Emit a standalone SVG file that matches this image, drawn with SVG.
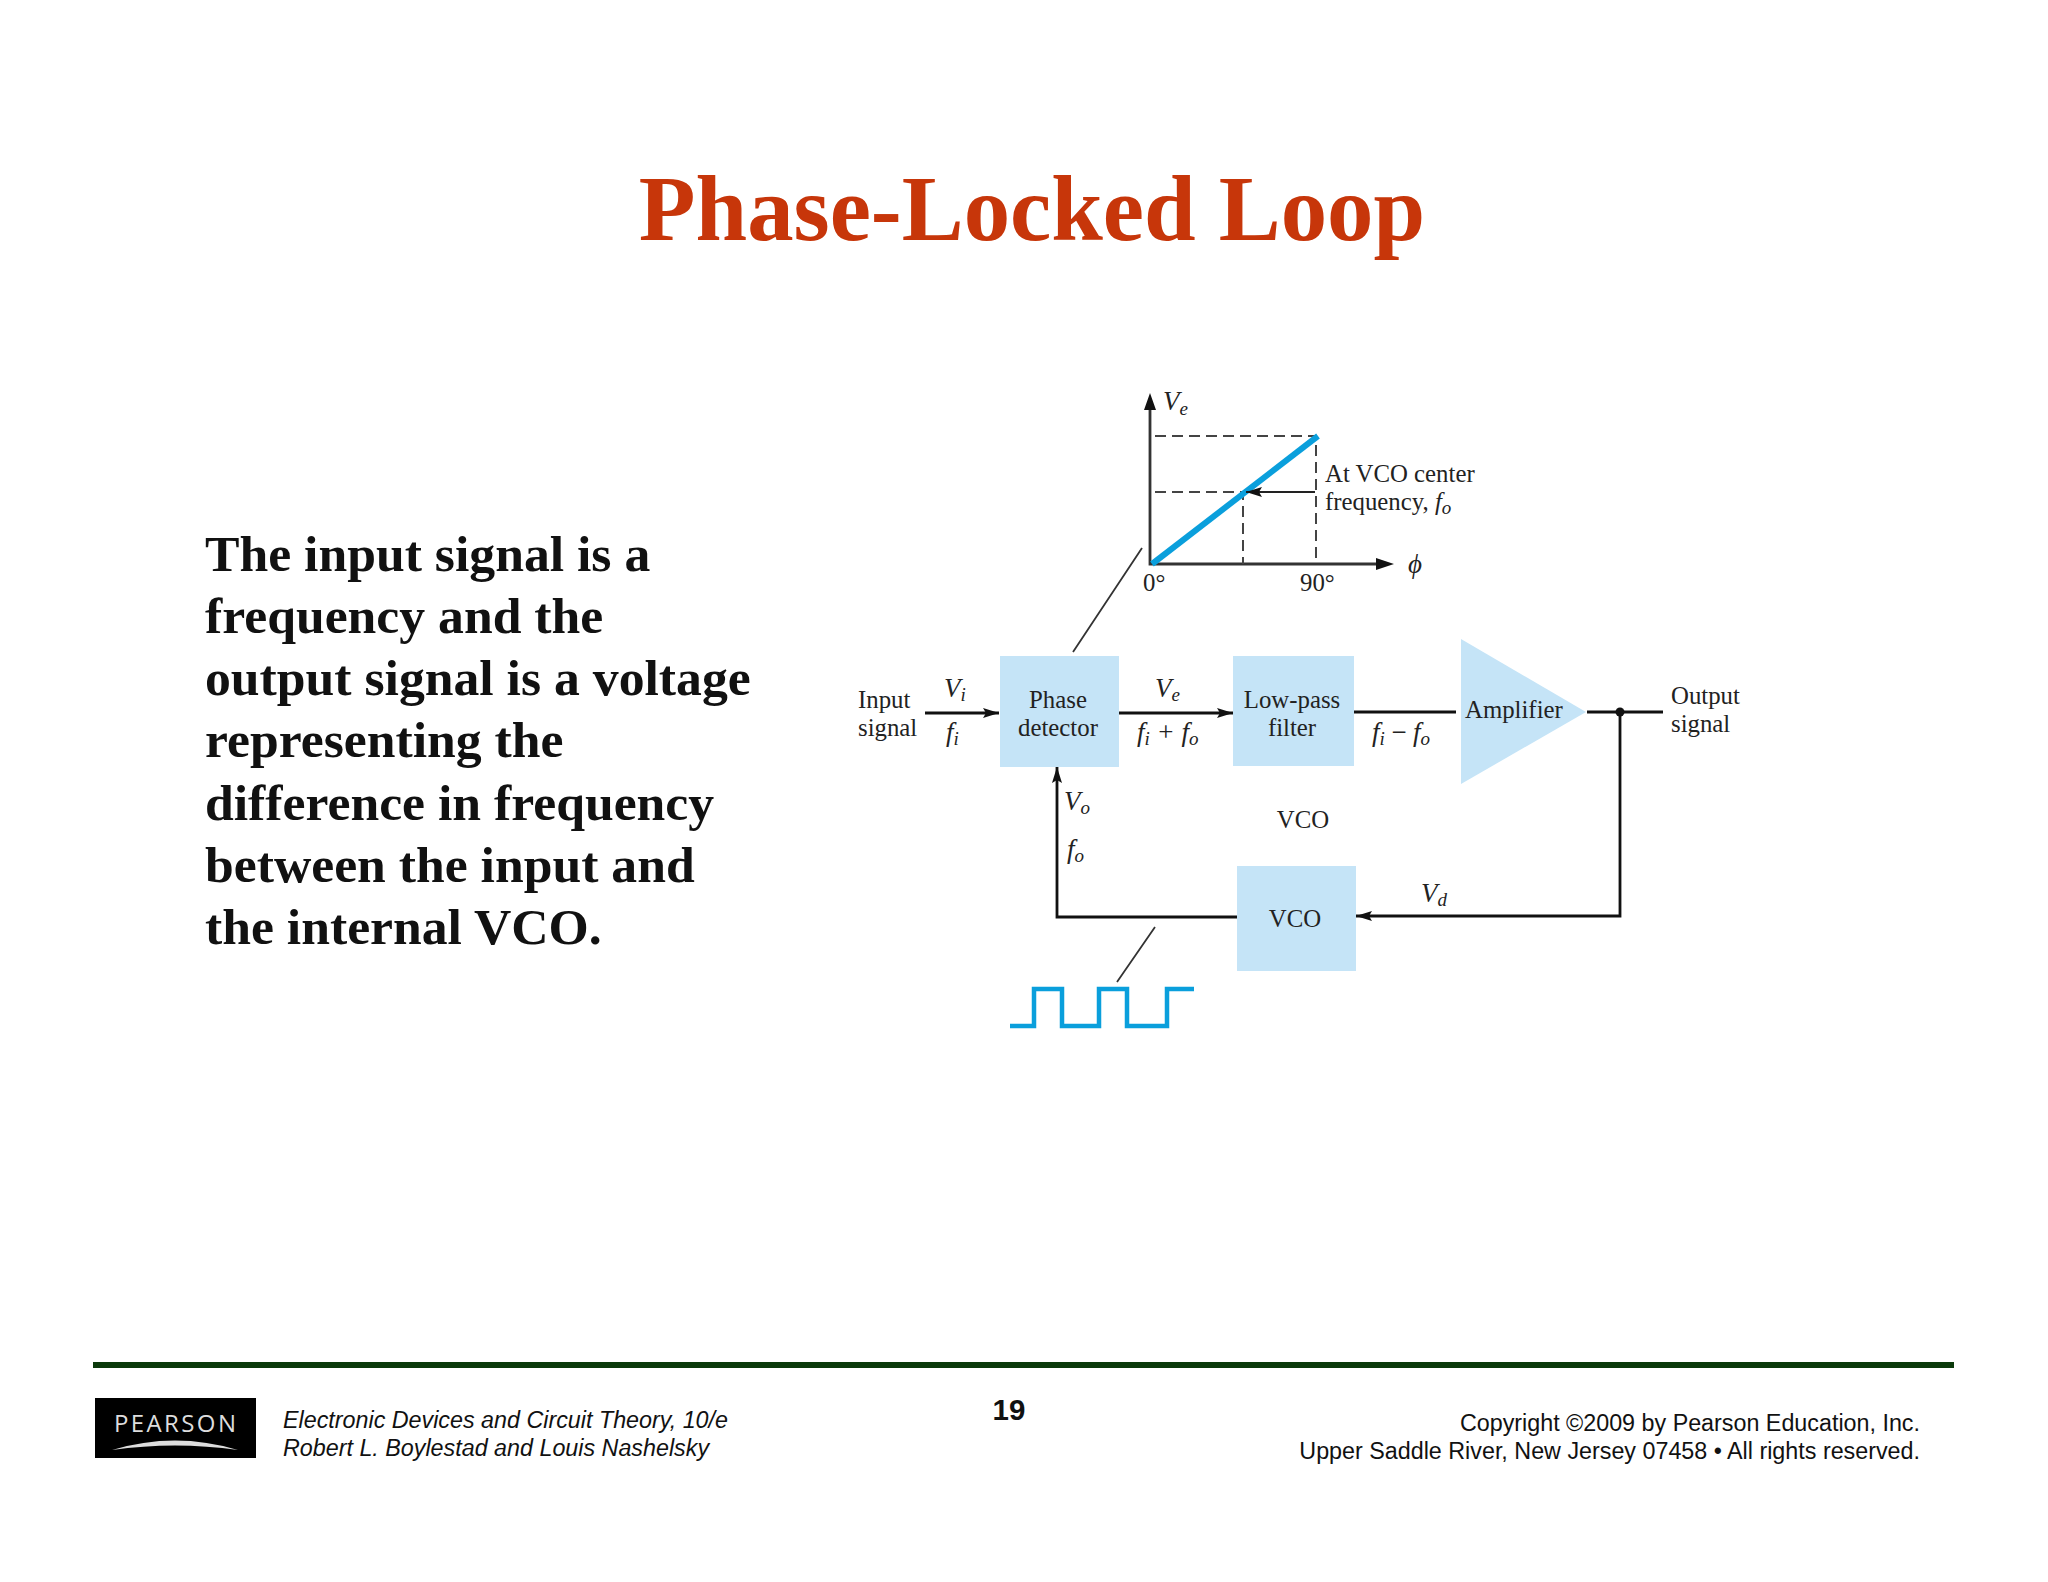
<svg xmlns="http://www.w3.org/2000/svg" width="2048" height="1582" viewBox="0 0 2048 1582">
<defs>
<marker id="ah" viewBox="0 0 16 10" refX="16" refY="5" markerWidth="16" markerHeight="10" markerUnits="userSpaceOnUse" orient="auto"><path d="M0 0L16 5L0 10L3 5Z" fill="#111"/></marker>
</defs>
<style>
.s{font-family:"Liberation Serif","Times New Roman",serif;fill:#222;font-size:24.8px}
.n{font-size:27px;font-style:italic}
.m{text-anchor:middle}
.b{fill:#c5e4f7}
.w{fill:none;stroke:#111;stroke-width:2.8}
.t{fill:none;stroke:#333;stroke-width:1.8}
.d{fill:none;stroke:#444;stroke-width:2;stroke-dasharray:11 6}
.u{fill:none;stroke:#0a9fdc}
.f{font-family:"Liberation Sans",Arial,sans-serif;fill:#111;font-size:23.3px}
.h{font-family:"Liberation Serif","Times New Roman",serif;font-weight:bold;fill:#111;font-size:51.7px}
tspan.sub{font-size:19px}
</style>
<rect width="2048" height="1582" fill="#fff"/>
<text id="title" x="1032" y="240" text-anchor="middle" style="font-family:'Liberation Serif','Times New Roman',serif;font-weight:bold;font-size:92.8px;fill:#c7360a">Phase-Locked Loop</text>
<g id="body">
<text class="h" x="205" y="571">The input signal is a</text>
<text class="h" x="205" y="633">frequency and the</text>
<text class="h" x="205" y="695">output signal is a voltage</text>
<text class="h" x="205" y="757">representing the</text>
<text class="h" x="205" y="820">difference in frequency</text>
<text class="h" x="205" y="882">between the input and</text>
<text class="h" x="205" y="944">the internal VCO.</text>
</g>
<g id="graph">
<path class="w" style="stroke:#333" d="M1150 400V564H1388"/>
<path d="M1150 393L1156 410H1144Z M1394 564L1376 558V570Z" fill="#111"/>
<path class="d" d="M1155 436H1316V564M1155 492H1243V564"/>
<path class="u" stroke-width="6" d="M1152 564L1318 436"/>
<path class="t" style="stroke:#222;stroke-width:2" d="M1315 492H1246" marker-end="url(#ah)"/>
<text class="s n" x="1163" y="410">V<tspan class="sub" dy="5">e</tspan></text>
<text class="s" x="1325" y="482">At VCO center</text>
<text class="s" x="1325" y="510">frequency, <tspan font-style="italic">f</tspan><tspan class="sub" font-style="italic" dy="4">o</tspan></text>
<text class="s n" x="1408" y="573">ϕ</text>
<text class="s" x="1143" y="591">0°</text>
<text class="s" x="1300" y="591">90°</text>
</g>
<g id="connectors">
<path class="t" d="M1142 548L1073 652M1155 927L1117 982"/>
<path class="w" d="M925 713H999" marker-end="url(#ah)"/>
<path class="w" d="M1119 713H1233" marker-end="url(#ah)"/>
<path class="w" d="M1354 712H1456M1587 712H1663"/>
<path class="w" d="M1620 712V916H1356" marker-end="url(#ah)"/>
<path class="w" d="M1237 917H1057V767" marker-end="url(#ah)"/>
<circle cx="1620" cy="712" r="4.5" fill="#111"/>
</g>
<g id="phase-detector"><rect class="b" x="1000" y="656" width="119" height="111"/><text class="s m" x="1058" y="708">Phase</text><text class="s m" x="1058" y="736">detector</text></g>
<g id="low-pass-filter"><rect class="b" x="1233" y="656" width="121" height="110"/><text class="s m" x="1292" y="708">Low-pass</text><text class="s m" x="1292" y="736">filter</text></g>
<g id="amplifier"><path class="b" d="M1461 639L1586 712L1461 784Z"/><text class="s" x="1465" y="718">Amplifier</text></g>
<g id="vco"><rect class="b" x="1237" y="866" width="119" height="105"/><text class="s m" x="1295" y="927">VCO</text></g>
<g id="labels">
<text class="s" x="858" y="708">Input</text>
<text class="s" x="858" y="736">signal</text>
<text class="s n" x="944" y="697">V<tspan class="sub" dy="4">i</tspan></text>
<text class="s n" x="946" y="741">f<tspan class="sub" dy="4">i</tspan></text>
<text class="s n" x="1155" y="697">V<tspan class="sub" dy="4">e</tspan></text>
<text class="s n" x="1137" y="741">f<tspan class="sub" dy="4">i</tspan><tspan dy="-4"> + </tspan>f<tspan class="sub" dy="4">o</tspan></text>
<text class="s n" x="1372" y="741">f<tspan class="sub" dy="4">i</tspan><tspan dy="-4" dx="5">−</tspan><tspan dx="5">f</tspan><tspan class="sub" dy="4">o</tspan></text>
<text class="s" x="1671" y="704">Output</text>
<text class="s" x="1671" y="732">signal</text>
<text class="s n" x="1064" y="810">V<tspan class="sub" dy="4">o</tspan></text>
<text class="s n" x="1067" y="858">f<tspan class="sub" dy="4">o</tspan></text>
<text class="s n" x="1421" y="902">V<tspan class="sub" dy="4">d</tspan></text>
<text class="s m" x="1303" y="828">VCO</text>
</g>
<path id="wave" class="u" stroke-width="4.5" d="M1010 1026H1034V989H1062V1026H1099V989H1127V1026H1167V989H1194"/>
<g id="footer">
<rect x="93" y="1362" width="1861" height="6" fill="#0b3a0b"/>
<rect x="95" y="1398" width="161" height="60" fill="#000"/>
<text x="114" y="1432" textLength="122" lengthAdjust="spacing" style="font-family:'Open Sans',sans-serif;font-size:24px;fill:#ddd">PEARSON</text>
<path d="M112 1450Q175 1431 238 1450Q175 1441 112 1450Z" fill="#ddd"/>
<text class="f" x="283" y="1428" font-style="italic">Electronic Devices and Circuit Theory, 10/e</text>
<text class="f" x="283" y="1456" font-style="italic">Robert L. Boylestad and Louis Nashelsky</text>
<text class="f" x="1009" y="1420" text-anchor="middle" style="font-weight:bold;font-size:29.5px">19</text>
<text class="f" x="1920" y="1431" text-anchor="end">Copyright ©2009 by Pearson Education, Inc.</text>
<text class="f" x="1920" y="1459" text-anchor="end">Upper Saddle River, New Jersey 07458 • All rights reserved.</text>
</g>
</svg>
